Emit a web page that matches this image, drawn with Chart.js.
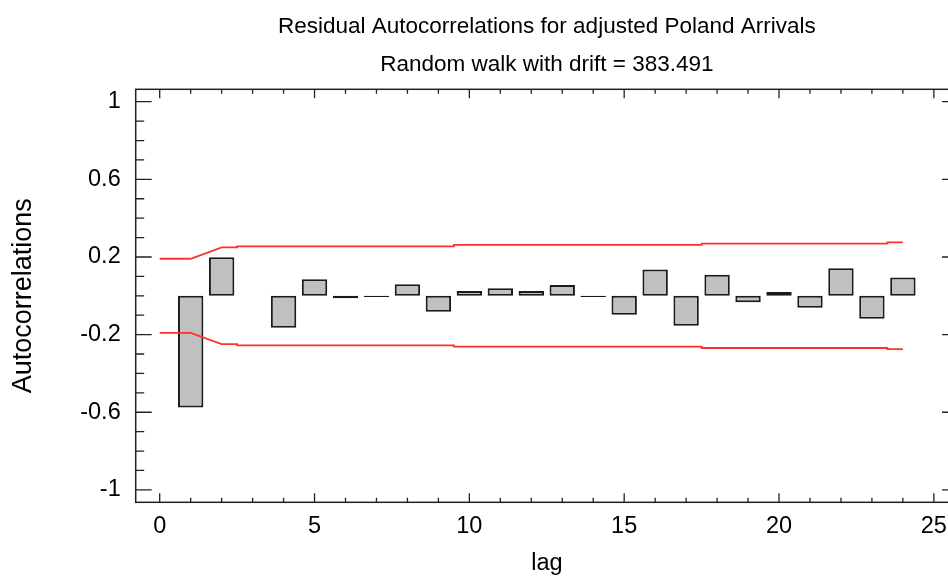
<!DOCTYPE html>
<html>
<head>
<meta charset="utf-8">
<script src="https://cdn.jsdelivr.net/npm/chart.js@4.4.1/dist/chart.umd.min.js"></script>
<style>
  html, body { margin: 0; padding: 0; background: #ffffff; overflow: hidden; }
  #wrap { width: 980px; height: 580px; }
</style>
</head>
<body>
<div id="wrap"><canvas id="c" width="980" height="580"></canvas></div>
<script>
// ---- Data ----
const lags = [1, 2, 3, 4, 5, 6, 7, 8, 9, 10, 11, 12, 13, 14, 15, 16, 17, 18, 19, 20, 21, 22, 23, 24];
const autocorrelations = [-0.576, 0.199, 0.000, -0.165, 0.085, -0.013, -0.006, 0.059, -0.082, 0.025, 0.039, 0.025,
                          0.056, -0.006, -0.097, 0.135, -0.154, 0.109, -0.033, 0.020, -0.061, 0.142, -0.118, 0.094];
// 95% probability limits (step outline as drawn)
const limitLags  = [0, 1, 2, 2.5, 2.5, 9.5, 9.5, 17.5, 17.5, 23.5, 23.5, 24];
const upperLimit = [0.191, 0.191, 0.249, 0.249, 0.255, 0.255, 0.262, 0.262, 0.269, 0.269, 0.275, 0.275];
const lowerLimit = [-0.191, -0.191, -0.249, -0.249, -0.255, -0.255, -0.262, -0.262, -0.269, -0.269, -0.275, -0.275];
const xTickLabels = [0, 5, 10, 15, 20, 25];
const yTickLabels = [1, 0.6, 0.2, -0.2, -0.6, -1];
const titleLines = ['Residual Autocorrelations for adjusted Poland Arrivals', 'Random walk with drift = 383.491'];
const xTitle = 'lag';
const yTitle = 'Autocorrelations';

const FONT = "'Liberation Sans', Arial, 'DejaVu Sans', sans-serif";

// Frame + inward tick marks, positioned through the chart scales
const framePlugin = {
  id: 'frame',
  afterDatasetsDraw(chart) {
    const {ctx, chartArea: a, scales: {x, y}} = chart;
    ctx.save();
    ctx.strokeStyle = '#222222';
    ctx.lineWidth = 1.5;
    ctx.strokeRect(a.left, a.top, a.right - a.left, a.bottom - a.top);
    ctx.lineWidth = 1.3;
    ctx.beginPath();
    // x ticks (every lag; major every 5)
    for (let v = 0; v <= 25; v++) {
      const px = x.getPixelForValue(v);
      if (px < a.left || px > a.right) continue;
      const len = xTickLabels.includes(v) ? 9 : 4.5;
      ctx.moveTo(px, a.bottom); ctx.lineTo(px, a.bottom - len);
      ctx.moveTo(px, a.top); ctx.lineTo(px, a.top + len);
    }
    // y ticks (every 0.1; major at labelled values)
    for (let k = -10; k <= 10; k++) {
      const v = k / 10;
      const py = y.getPixelForValue(v);
      const major = yTickLabels.some(t => Math.abs(t - v) < 1e-9);
      const len = major ? 16 : 8.5;
      ctx.moveTo(a.left, py); ctx.lineTo(a.left + len, py);
      ctx.moveTo(a.right, py); ctx.lineTo(a.right - len, py);
    }
    ctx.stroke();
    ctx.restore();
  }
};

new Chart(document.getElementById('c'), {
  type: 'bar',
  data: {
    datasets: [
      {
        type: 'bar',
        label: 'Autocorrelations',
        data: lags.map((l, i) => ({x: l, y: autocorrelations[i]})),
        backgroundColor: '#c0c0c0',
        borderColor: '#1a1a1a',
        borderWidth: 2,
        borderSkipped: false,
        barPercentage: 0.82,
        categoryPercentage: 1.0,
        order: 2
      },
      {
        type: 'line',
        label: 'Upper limit',
        data: limitLags.map((l, i) => ({x: l, y: upperLimit[i]})),
        borderColor: '#ff3030',
        borderWidth: 1.8,
        pointRadius: 0,
        tension: 0,
        fill: false,
        order: 1
      },
      {
        type: 'line',
        label: 'Lower limit',
        data: limitLags.map((l, i) => ({x: l, y: lowerLimit[i]})),
        borderColor: '#ff3030',
        borderWidth: 1.8,
        pointRadius: 0,
        tension: 0,
        fill: false,
        order: 1
      }
    ]
  },
  options: {
    responsive: false,
    animation: false,
    devicePixelRatio: 1,
    layout: { padding: { top: 0, right: 22, bottom: 0, left: 0 } },
    plugins: {
      legend: { display: false },
      tooltip: { enabled: false },
      title: {
        display: true,
        fullSize: false,
        text: titleLines,
        color: '#000000',
        font: { family: FONT, size: 22.5, weight: 'normal', lineHeight: 1.7 },
        padding: { top: 7.5, bottom: 5.3 }
      }
    },
    scales: {
      x: {
        type: 'linear',
        min: -0.775,
        max: 25.78,
        offset: false,
        grid: { display: false, drawTicks: false },
        border: { display: false },
        afterBuildTicks: (s) => { s.ticks = xTickLabels.map(v => ({value: v})); },
        afterFit: (s) => { s.height = 77.7; },
        ticks: {
          color: '#000000',
          padding: 10,
          maxRotation: 0,
          autoSkip: false,
          font: { family: FONT, size: 23.5 },
          callback: (v) => String(v)
        },
        title: {
          display: true,
          text: xTitle,
          color: '#000000',
          font: { family: FONT, size: 23.5 },
          padding: { top: 0, bottom: 2 }
        }
      },
      y: {
        type: 'linear',
        min: -1.064,
        max: 1.064,
        grid: { display: false, drawTicks: false },
        border: { display: false },
        afterBuildTicks: (s) => { s.ticks = yTickLabels.map(v => ({value: v})); },
        afterFit: (s) => { s.width = 135.7; },
        ticks: {
          color: '#000000',
          padding: 15,
          autoSkip: false,
          font: { family: FONT, size: 23.5 },
          callback: (v) => String(v)
        },
        title: {
          display: true,
          text: yTitle,
          color: '#000000',
          font: { family: FONT, size: 27 },
          padding: { top: 7.6, bottom: 0 }
        }
      }
    }
  },
  plugins: [framePlugin]
});
</script>
</body>
</html>
